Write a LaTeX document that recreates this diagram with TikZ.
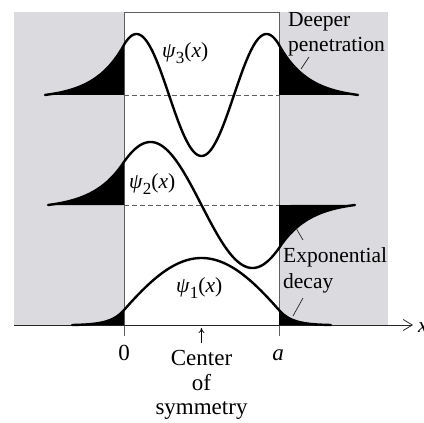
\documentclass[tikz,border=0pt]{standalone}
\usepackage{fontspec}
\setmainfont{Liberation Serif}
\usetikzlibrary{arrows.meta}
\definecolor{bg}{RGB}{219,219,223}
\definecolor{wallc}{RGB}{95,95,95}
\newcommand{\psilab}[1]{\textit{ψ}\raisebox{-0.28em}{\fontsize{17}{17}\selectfont #1}(\textit{x})}
\begin{document}
\begin{tikzpicture}[x=1pt,y=-1pt,
  wave/.style={line width=2.4pt, line join=round, line cap=round},
  wallline/.style={draw=wallc, line width=0.8pt},
  baseln/.style={draw=wallc, line width=0.8pt, dash pattern=on 5pt off 3pt},
  lbl/.style={font=\fontsize{21.5}{25}\selectfont, inner sep=0pt},
  blbl/.style={font=\fontsize{23}{26}\selectfont, inner sep=0pt},
  leader/.style={draw=black!85, line width=0.7pt},
]
\useasboundingbox (0,0) rectangle (424,423);
% background regions
\fill[bg] (14,12) rectangle (388,325);
\fill[white] (124,12) rectangle (279,325);
% well walls
\coordinate (wlTop) at (124,12);
\coordinate (wrTop) at (279,12);
\coordinate (wlBot) at (124,336);
\coordinate (wrBot) at (279,336);
\draw[wallline] (wlBot) -- (wlTop) -- (wrTop) -- (wrBot);
% axis
\coordinate (axL) at (14,325);
\coordinate (axR) at (413,325);
\draw[draw=black!85, line width=0.8pt, -{Straight Barb[length=9pt,width=11pt]}] (axL) -- (axR);
\node[lbl, anchor=base west, font=\fontsize{21.5}{25}\selectfont\itshape] (xlab) at (418,332) {x};

% ---------- psi_3 ----------
\draw[baseln] (124,95) -- (279,95);
\fill (124,95) -- plot[domain=124:45,samples=50] (\x,{95-50.05*(exp(0.03367*(\x-124))-0.0692)/0.9308}) -- cycle;
\fill (279,95) -- plot[domain=279:358,samples=50] (\x,{95-50.05*(exp(-0.03367*(\x-279))-0.0692)/0.9308}) -- cycle;
\draw[wave] plot[domain=45:124,samples=50] (\x,{95-50.05*(exp(0.03367*(\x-124))-0.0692)/0.9308})
  -- plot[domain=124:279,samples=120] (\x,{95+61*cos(deg(0.048332*(\x-201.5)))})
  -- plot[domain=279:358,samples=50] (\x,{95-50.05*(exp(-0.03367*(\x-279))-0.0692)/0.9308});

% ---------- psi_2 ----------
\draw[baseln] (124,205) -- (279,205);
\fill (124,205) -- plot[domain=124:48,samples=50] (\x,{205-43.12*(exp(0.0328*(\x-124))-0.0827)/0.9173}) -- cycle;
\fill (279,205) -- plot[domain=279:355,samples=50] (\x,{205+43.12*(exp(-0.0328*(\x-279))-0.0827)/0.9173}) -- cycle;
\draw[wave] plot[domain=48:124,samples=50] (\x,{205-43.12*(exp(0.0328*(\x-124))-0.0827)/0.9173})
  -- plot[domain=124:279,samples=120] (\x,{205+63*sin(deg(0.0308*(\x-201.5)))})
  -- plot[domain=279:355,samples=50] (\x,{205+43.12*(exp(-0.0328*(\x-279))-0.0827)/0.9173});

% ---------- psi_1 ----------
\fill (124,325) -- plot[domain=124:72,samples=50] (\x,{325-14.96*(exp(0.0758*(\x-124))-0.0194)/0.9806}) -- cycle;
\fill (279,325) -- plot[domain=279:331,samples=50] (\x,{325-14.96*(exp(-0.0758*(\x-279))-0.0194)/0.9806}) -- cycle;
\draw[wave] plot[domain=72:124,samples=50] (\x,{325-14.96*(exp(0.0758*(\x-124))-0.0194)/0.9806})
  -- plot[domain=124:279,samples=120] (\x,{325-67*cos(deg(0.01736*(\x-201.5)))})
  -- plot[domain=279:331,samples=50] (\x,{325-14.96*(exp(-0.0758*(\x-279))-0.0194)/0.9806});

% ---------- labels ----------
\node[lbl, anchor=base west] (p3) at (162,57) {\psilab{3}};
\node[lbl, anchor=base west] (p2) at (129,188) {\psilab{2}};
\node[lbl, anchor=base west] (p1) at (176,292) {\psilab{1}};

\node[lbl, anchor=base west] (deeper) at (288,27) {Deeper};
\node[lbl, anchor=base west] (pen) at (288,52) {penetration};
\node[lbl, anchor=base west] (expo) at (283,262) {Exponential};
\node[lbl, anchor=base west] (decay) at (283,288) {decay};

\coordinate (penA) at (309,57);
\coordinate (penB) at (301,69);
\draw[leader] (penA) -- (penB);
\coordinate (expA) at (303,240);
\coordinate (expB) at (296,228);
\draw[leader] (expA) -- (expB);
\coordinate (decA) at (303,298);
\coordinate (decB) at (293,316);
\draw[leader] (decA) -- (decB);

\node[blbl, anchor=base] (zero) at (124,360) {0};
\node[blbl, anchor=base, font=\fontsize{23}{26}\selectfont\itshape] (alab) at (278,360) {a};
\node[blbl, anchor=base] (center) at (201.5,365) {Center};
\node[blbl, anchor=base] (of) at (201.5,390) {of};
\node[blbl, anchor=base] (sym) at (201.5,414) {symmetry};
\coordinate (csA) at (201.5,343);
\coordinate (csB) at (201.5,328);
\draw[line width=0.7pt, -{To[length=5pt,width=6pt]}] (csA) -- (csB);
\end{tikzpicture}
\end{document}
